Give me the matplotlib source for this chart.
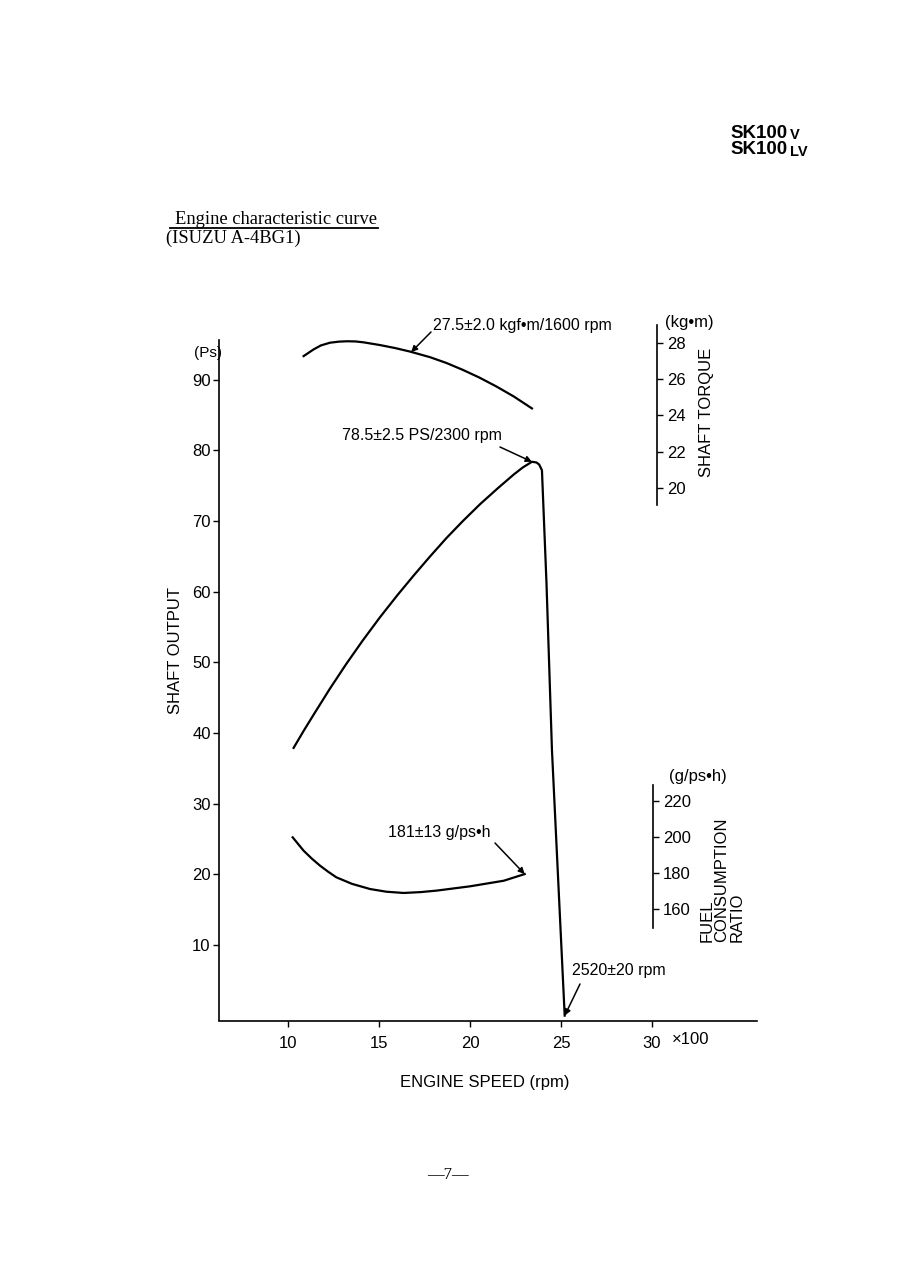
import matplotlib.pyplot as plt
import numpy as np
from matplotlib.lines import Line2D

# engine speed in units of 100 rpm
power_rpm = [10.3, 10.85, 11.4, 12.3, 13.2, 14.1, 15.05, 16.0, 16.9, 17.8, 18.7, 19.6,
             20.55, 21.5, 22.4, 22.9, 23.4, 23.65, 23.8, 23.95, 24.2, 24.5, 25.2]
power_ps = [37.9, 40.3, 42.6, 46.3, 49.8, 53.1, 56.4, 59.5, 62.3, 65.0, 67.6, 70.0,
            72.4, 74.6, 76.6, 77.6, 78.4, 78.3, 78.0, 77.2, 61.2, 37.6, 0.0]

torque_rpm = [10.85, 11.4, 11.8, 12.3, 12.8, 13.25, 13.7, 14.15, 15.05, 15.9, 16.7, 17.8,
              18.7, 19.6, 20.5, 21.45, 22.4, 23.4]
torque_kgm = [27.28, 27.65, 27.87, 28.02, 28.08, 28.1, 28.09, 28.04, 27.89, 27.72, 27.53, 27.22,
              26.9, 26.52, 26.1, 25.6, 25.05, 24.39]

fuel_rpm = [10.25, 10.85, 11.3, 11.75, 12.2, 12.65, 13.5, 14.5, 15.4, 16.35, 17.3, 18.15,
            20.0, 21.85, 23.0]
fuel_gpsh = [199.8, 192.4, 188.0, 184.1, 180.7, 177.6, 174.0, 171.1, 169.6, 168.9, 169.4, 170.2,
             172.6, 175.7, 179.4]

speed_ticks = [10, 15, 20, 25, 30]
power_ticks = [10, 20, 30, 40, 50, 60, 70, 80, 90]
torque_ticks = [20, 22, 24, 26, 28]
fuel_ticks = [160, 180, 200, 220]

W, H = 909, 1286
NARROW = ['Liberation Sans Narrow', 'Liberation Sans', 'DejaVu Sans']
SANS = ['Liberation Sans', 'DejaVu Sans']
SERIF = ['Liberation Serif', 'DejaVu Serif']


def fp(x, y):
    # image pixel (from top-left) -> figure fraction
    return x / W, 1 - y / H


fig = plt.figure(figsize=(W / 100, H / 100), dpi=100)
fig.patch.set_facecolor('white')

left, right, top, bottom = 219, 757, 300, 1020.5
ax = fig.add_axes([left / W, 1 - bottom / H, (right - left) / W, (bottom - top) / H])
ax.set_facecolor('none')

ax.set_xlim(6.2, 35.77)
ax.set_ylim(-0.69, 101.3)
ax.spines['top'].set_visible(False)
ax.spines['right'].set_visible(False)
ax.spines['left'].set_bounds(-0.69, 95.7)
for s in ['left', 'bottom']:
    ax.spines[s].set_linewidth(1.2)
ax.set_xticks(speed_ticks)
ax.set_yticks(power_ticks)
ax.tick_params(axis='both', direction='out', length=4, width=1, labelsize=12)
ax.tick_params(axis='x', pad=7)
ax.tick_params(axis='y', pad=2)
for lab in ax.get_xticklabels() + ax.get_yticklabels():
    lab.set_family(NARROW)

ax.plot(power_rpm, power_ps, color='black', lw=1.6, solid_joinstyle='round')

# torque scale
axt = ax.twinx()
axt.set_ylim(-9.43, 30.38)
for s in ['left', 'top', 'bottom']:
    axt.spines[s].set_visible(False)
axt.spines['right'].set_position(('data', 30.27))
axt.spines['right'].set_bounds(19.05, 28.99)
axt.spines['right'].set_linewidth(1.2)
axt.set_yticks(torque_ticks)
axt.tick_params(axis='y', direction='out', length=4, width=1, labelsize=12, pad=3)
for lab in axt.get_yticklabels():
    lab.set_family(NARROW)
axt.plot(torque_rpm, torque_kgm, color='black', lw=1.6, solid_joinstyle='round')

# fuel consumption scale
axf = ax.twinx()
axf.set_ylim(98.06, 498.3)
for s in ['left', 'top', 'bottom']:
    axf.spines[s].set_visible(False)
axf.spines['right'].set_position(('data', 30.05))
axf.spines['right'].set_bounds(149.4, 228.9)
axf.spines['right'].set_linewidth(1.2)
axf.set_yticks(fuel_ticks)
axf.tick_params(axis='y', direction='out', length=4, width=1, labelsize=12, pad=3)
for lab in axf.get_yticklabels():
    lab.set_family(NARROW)
axf.plot(fuel_rpm, fuel_gpsh, color='black', lw=1.6, solid_joinstyle='round')

arrow = dict(arrowstyle='-|>', color='black', lw=1.1, mutation_scale=9, shrinkA=0, shrinkB=0)
axt.annotate('', xy=(16.76, 27.5), xytext=fp(431, 332), textcoords='figure fraction', arrowprops=arrow)
ax.annotate('', xy=(23.4, 78.4), xytext=fp(500, 447), textcoords='figure fraction', arrowprops=arrow)
axf.annotate('', xy=(23.0, 179.4), xytext=fp(495, 843), textcoords='figure fraction', arrowprops=arrow)
ax.annotate('', xy=(25.2, 0), xytext=fp(580, 984), textcoords='figure fraction', arrowprops=arrow)

ann = dict(fontsize=11.5, family=NARROW, va='center', ha='left')
fig.text(*fp(433, 325), '27.5±2.0 kgf•m/1600 rpm', **ann)
fig.text(*fp(342, 435), '78.5±2.5 PS/2300 rpm', **ann)
fig.text(*fp(388, 832), '181±13 g/ps•h', **ann)
fig.text(*fp(572, 971), '2520±20 rpm', **ann)

fig.text(*fp(689, 322), '(kg•m)', fontsize=12, family=NARROW, ha='center', va='center')
fig.text(*fp(698, 776), '(g/ps•h)', fontsize=12, family=NARROW, ha='center', va='center')
fig.text(*fp(222, 353), '(Ps)', fontsize=11, family=NARROW, ha='right', va='center')
fig.text(*fp(672, 1040), '×100', fontsize=12, family=NARROW, ha='left', va='center')

fig.text(*fp(706, 412), 'SHAFT TORQUE', fontsize=12, family=SANS, rotation=90, ha='center', va='center')
fig.text(*fp(722, 942), 'FUEL\nCONSUMPTION\nRATIO', fontsize=12, family=SANS, rotation=90,
         ha='center', va='bottom', multialignment='left', linespacing=1.0)
fig.text(*fp(176, 650), 'SHAFT OUTPUT', fontsize=12, family=SANS, rotation=90, ha='center', va='center')
fig.text(*fp(485, 1082), 'ENGINE SPEED (rpm)', fontsize=12, family=SANS, ha='center', va='center')

# title block
fig.text(*fp(175, 219), 'Engine characteristic curve', fontsize=13.3, family=SERIF,
         ha='left', va='center')
fig.text(*fp(166, 238), '(ISUZU A-4BG1)', fontsize=13.3, family=SERIF,
         ha='left', va='center')
fig.add_artist(Line2D([170 / W, 378 / W], [1 - 228 / H, 1 - 228 / H], color='black', lw=1.3))

# model header
hdr = dict(fontsize=13.5, family=SANS, weight='heavy', va='center', ha='left')
fig.text(*fp(730, 133), 'SK100', **hdr)
fig.text(*fp(790, 135), 'V', fontsize=10.5, family=SANS, weight='heavy', va='center', ha='left')
fig.text(*fp(730, 150), 'SK100', **hdr)
fig.text(*fp(790, 152), 'LV', fontsize=10.5, family=SANS, weight='heavy', va='center', ha='left')

fig.text(*fp(448, 1175), '—7—', fontsize=12, family=SERIF, ha='center', va='center')

fig.savefig('out.png', dpi=100, facecolor='white')
